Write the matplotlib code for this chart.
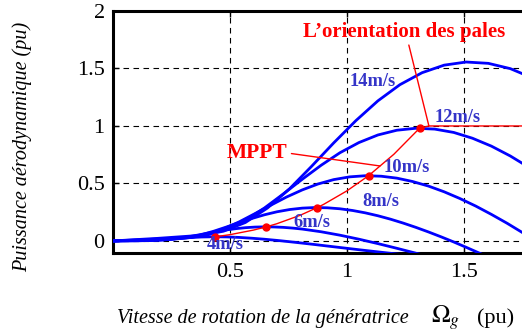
import numpy as np
import matplotlib.pyplot as plt

# rotor speed (pu) / aerodynamic power (pu), one pair per wind speed
omega_4 = [0, 0.054, 0.108, 0.162, 0.216, 0.270, 0.323, 0.377, 0.431, 0.485, 0.539, 0.593,
           0.647, 0.701, 0.755, 0.809, 0.863, 0.916, 0.970, 1.078, 1.186, 1.294]
p_4 = [0, 0.0005, 0.0011, 0.0037, 0.0106, 0.0199, 0.0284, 0.0341, 0.0363, 0.0350, 0.0305, 0.0236,
       0.0148, 0.0045, -0.0069, -0.0190, -0.0315, -0.0443, -0.0572, -0.0829, -0.1077, -0.1315]

omega_6 = [0, 0.081, 0.162, 0.243, 0.323, 0.404, 0.445, 0.485, 0.526, 0.566, 0.606, 0.647,
           0.687, 0.728, 0.768, 0.809, 0.889, 0.970, 1.051, 1.132, 1.213, 1.294, 1.375]
p_6 = [0, 0.0017, 0.0038, 0.0126, 0.0358, 0.0671, 0.0824, 0.0959, 0.1070, 0.1152, 0.1204, 0.1225,
       0.1216, 0.1180, 0.1117, 0.1031, 0.0798, 0.0499, 0.0151, -0.0233, -0.0641, -0.1065, -0.1496]

omega_8 = [0, 0.108, 0.216, 0.323, 0.377, 0.431, 0.485, 0.539, 0.593, 0.647, 0.701, 0.755, 0.809,
           0.863, 0.916, 0.970, 1.024, 1.078, 1.132, 1.186, 1.240, 1.294, 1.348, 1.402, 1.456,
           1.509, 1.617]
p_8 = [0, 0.0041, 0.0091, 0.0300, 0.0534, 0.0848, 0.1212, 0.1590, 0.1952, 0.2273, 0.2536, 0.2731,
       0.2853, 0.2904, 0.2882, 0.2796, 0.2647, 0.2443, 0.2189, 0.1891, 0.1553, 0.1182, 0.0782,
       0.0357, -0.0089, -0.0552, -0.1520]

omega_10 = [0, 0.135, 0.270, 0.337, 0.404, 0.472, 0.539, 0.606, 0.674, 0.741, 0.809, 0.876, 0.943,
            1.011, 1.078, 1.146, 1.213, 1.280, 1.348, 1.415, 1.482, 1.550, 1.617, 1.685, 1.752,
            1.819]
p_10 = [0, 0.0081, 0.0178, 0.0308, 0.0585, 0.1043, 0.1656, 0.2367, 0.3106, 0.3813, 0.4440, 0.4952,
        0.5333, 0.5572, 0.5671, 0.5629, 0.5462, 0.5170, 0.4772, 0.4275, 0.3693, 0.3034, 0.2309,
        0.1527, 0.0698, -0.0174]

omega_12 = [0, 0.162, 0.323, 0.404, 0.485, 0.566, 0.647, 0.728, 0.809, 0.890, 0.970, 1.051, 1.132,
            1.213, 1.294, 1.375, 1.456, 1.536, 1.617, 1.698, 1.779]
p_12 = [0, 0.0139, 0.0308, 0.0532, 0.1011, 0.1802, 0.2862, 0.4091, 0.5367, 0.6590, 0.7672, 0.8557,
        0.9216, 0.9629, 0.9800, 0.9727, 0.9437, 0.8934, 0.8246, 0.7387, 0.6381]

omega_14 = [0, 0.189, 0.377, 0.472, 0.566, 0.660, 0.755, 0.849, 0.943, 1.038, 1.132, 1.226, 1.321,
            1.415, 1.509, 1.604, 1.698, 1.792]
p_14 = [0, 0.0221, 0.0489, 0.0845, 0.1606, 0.2862, 0.4544, 0.6496, 0.8523, 1.0464, 1.2184, 1.3589,
        1.4634, 1.5290, 1.5562, 1.5447, 1.4986, 1.4186]

speed_labels = ["4m/s", "6m/s", "8m/s", "10m/s", "12m/s", "14m/s"]

# MPPT trajectory then pitch-limited part at rated power
mppt_omega = [0.437, 0.5, 0.6, 0.655, 0.7, 0.8, 0.873, 0.9, 1.0, 1.092, 1.2, 1.31, 1.35, 1.75]
mppt_p = [0.0363, 0.0545, 0.0942, 0.1225, 0.1495, 0.2232, 0.2904, 0.3178, 0.4359, 0.5671, 0.7533,
          0.98, 1.0, 1.0]
dot_omega = [0.437, 0.655, 0.873, 1.092, 1.31]
dot_p = [0.0363, 0.1225, 0.2904, 0.5671, 0.98]

x_ticks = [0.5, 1, 1.5]
x_ticklabels = ["0.5", "1", "1.5"]
y_ticks = [0, 0.5, 1, 1.5, 2]
y_ticklabels = ["0", "0.5", "1", "1.5", "2"]

plt.rcParams['font.family'] = ['Liberation Serif', 'DejaVu Serif']
plt.rcParams['mathtext.fontset'] = 'stix'

blue = '#0000ff'
label_blue = '#3434c8'
red = '#ff0000'

fig = plt.figure(figsize=(5.22, 3.34), dpi=100)
ax = fig.add_axes([113 / 522, 81 / 334, 409.5 / 522, 242 / 334])

curves = [(omega_4, p_4), (omega_6, p_6), (omega_8, p_8),
          (omega_10, p_10), (omega_12, p_12), (omega_14, p_14)]
for om, p in curves:
    ax.plot(om, p, color=blue, lw=2.0, solid_capstyle='butt', zorder=3)

ax.plot(mppt_omega, mppt_p, color=red, lw=1.0, zorder=4)
ax.plot(dot_omega, dot_p, 'o', color=red, ms=5, zorder=5)

# wind speed labels
label_pos = [(0.479, -0.035), (0.850, 0.157), (1.145, 0.339),
             (1.256, 0.643), (1.474, 1.070), (1.111, 1.383)]
for lab, (lx, ly) in zip(speed_labels, label_pos):
    ax.text(lx, ly, lab, color=label_blue, fontsize=13.3, fontweight='bold',
            ha='center', va='center', zorder=6)

ax.annotate("L\u2019orientation des pales", xy=(1.35, 1.0), xytext=(1.244, 1.815),
            color=red, fontsize=15, fontweight='bold', ha='center', va='center',
            arrowprops=dict(arrowstyle='-', color=red, lw=1.0, shrinkA=0, shrinkB=0,
                            relpos=(0.52, 0.0)), zorder=6)
ax.annotate("MPPT", xy=(1.141, 0.652), xytext=(0.615, 0.765),
            color=red, fontsize=15.5, fontweight='bold', ha='center', va='center',
            arrowprops=dict(arrowstyle='-', color=red, lw=1.0, shrinkA=1, shrinkB=0,
                            relpos=(1.0, 0.5)), zorder=6)

ax.set_xlim(0, 1.75)
ax.set_ylim(-0.105, 2)
ax.set_xticks(x_ticks)
ax.set_xticklabels(x_ticklabels)
ax.set_yticks(y_ticks)
ax.set_yticklabels(y_ticklabels)
ax.tick_params(direction='in', length=4, width=1, labelsize=16, top=True)
ax.tick_params(axis='x', pad=7)
ax.tick_params(axis='y', pad=6)
ax.grid(True, color='black', lw=0.8, linestyle=(0, (5, 4)))

for side in ['left', 'bottom', 'top']:
    ax.spines[side].set_linewidth(2.2)
ax.spines['right'].set_visible(False)

fig.text(22 / 522, 1 - 147 / 334, "Puissance a\u00e9rodynamique (pu)", rotation=90,
         style='italic', fontsize=14.5, ha='center', va='center')
fig.text(117 / 522, 1 - 318 / 334, "Vitesse de rotation de la g\u00e9n\u00e9ratrice",
         style='italic', fontsize=14.5, ha='left', va='center')
fig.text(431 / 522, 1 - 318 / 334, r"$\Omega_g$", fontsize=18, ha='left', va='center')
fig.text(477 / 522, 1 - 318 / 334, "(pu)", fontsize=16, ha='left', va='center')

fig.savefig("out.png", dpi=100)
